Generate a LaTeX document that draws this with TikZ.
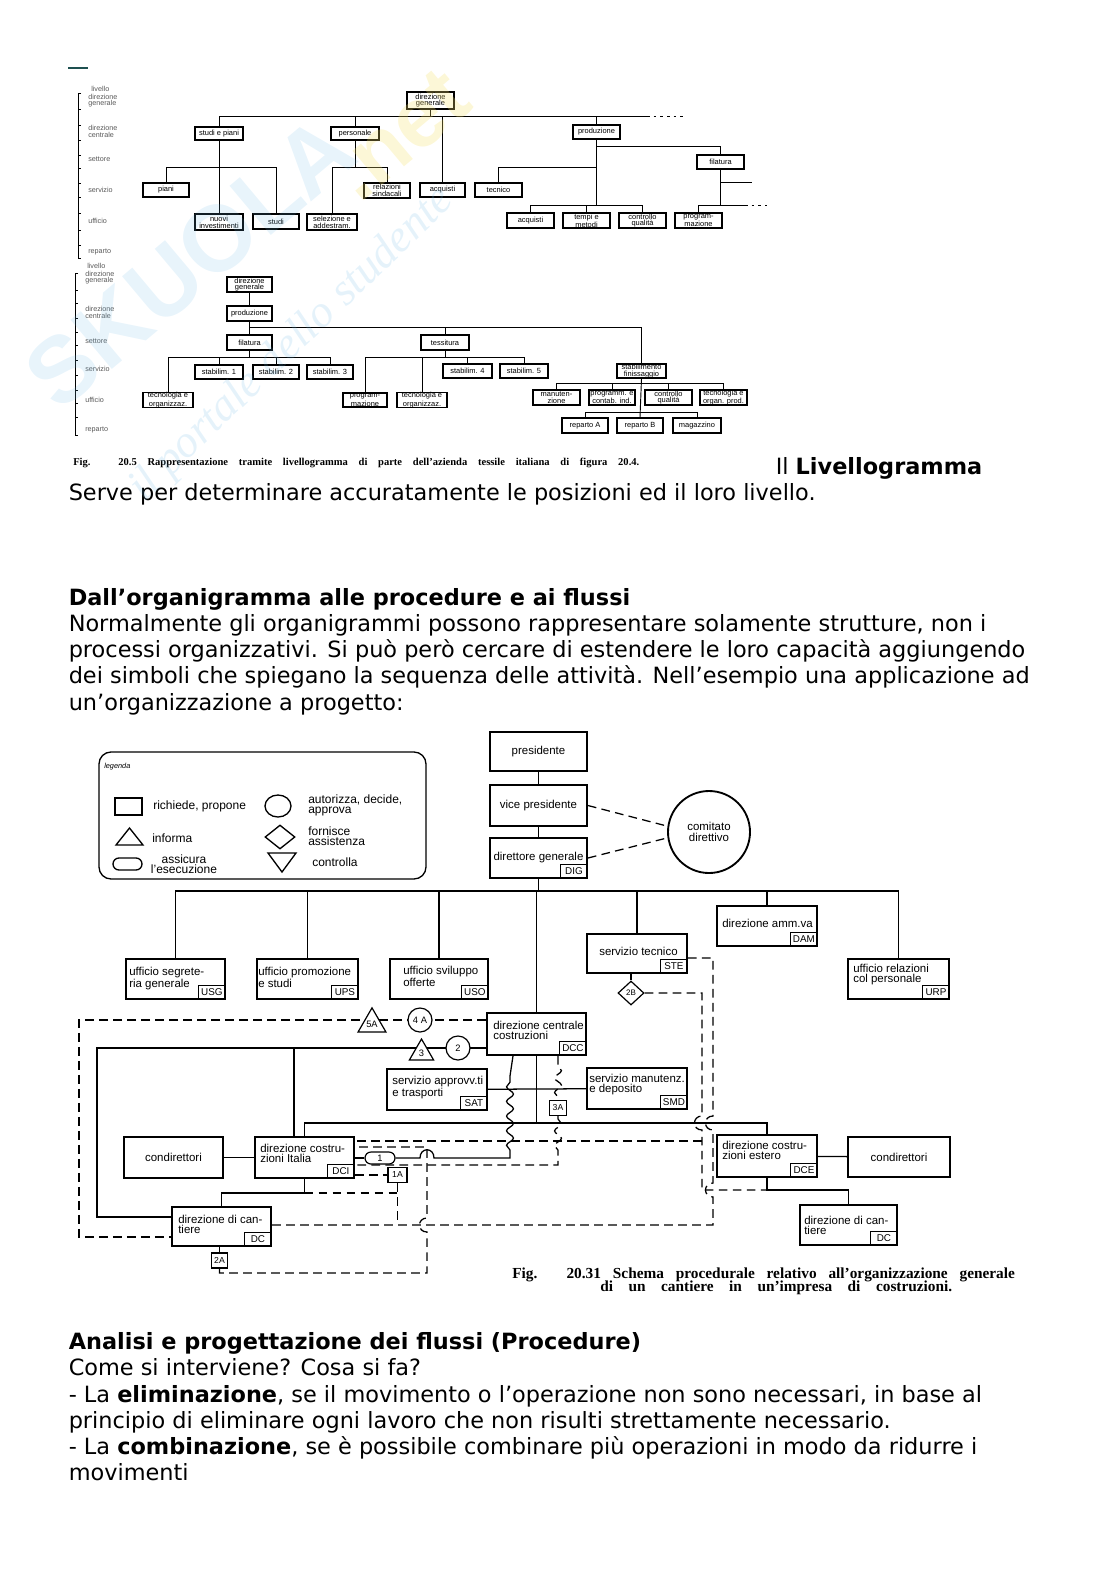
\documentclass[tikz,border=0pt]{standalone}
\usepackage{fontspec}
\setmainfont{DejaVu Sans}
\newfontfamily\hel{Liberation Sans}
\newfontfamily\tim{Liberation Serif}
\usetikzlibrary{shapes.geometric,decorations.pathmorphing,backgrounds,calc,fit}
\definecolor{wmblue}{RGB}{110,185,230}
\definecolor{wmyellow}{RGB}{245,225,110}
\definecolor{tealdash}{RGB}{30,80,80}
\newcommand\LB[6]{\node[lvbox, minimum width={(#4-#2)*0.75pt}, minimum height={(#5-#3)*0.75pt}] (#1) at ({(#2+#4)/2},{(#3+#5)/2}) {#6};}
\newcommand\PBX[6]{\node[pbox, minimum width={(#4-#2)*0.75pt}, minimum height={(#5-#3)*0.75pt}] (#1) at ({(#2+#4)/2},{(#3+#5)/2}) {};\node[cbox,anchor=south east] (#1c) at (#1.south east) {#6};}
\newcommand\PB[6]{\node[pbox, font=\hel\fontsize{8.6}{8}\selectfont, minimum width={(#4-#2)*0.75pt}, minimum height={(#5-#3)*0.75pt}] (#1) at ({(#2+#4)/2},{(#3+#5)/2}) {#6};}
\tikzset{
 lvbox/.style={draw, line width=1.1pt, inner sep=0pt, font=\hel\fontsize{5.6}{5}\selectfont, align=center},
 lvlab/.style={font=\hel\fontsize{5.4}{5}\selectfont, text=black!65, inner sep=0pt, anchor=west},
 lvcon/.style={line width=0.7pt},
 pbox/.style={draw, line width=1.4pt, inner sep=0pt},
 cbox/.style={draw, line width=1pt, inner sep=0pt, minimum width=20pt, minimum height=10.5pt, font=\hel\fontsize{7.4}{7}\selectfont},
 ptxt/.style={font=\hel\fontsize{8.6}{7.6}\selectfont, inner sep=0pt, anchor=north west, align=left},
 pcon/.style={line width=0.95pt},
 pdash/.style={line width=0.95pt, dash pattern=on 6.5pt off 4pt},
 sym/.style={draw, line width=0.9pt, fill=white, inner sep=0pt, font=\hel\fontsize{7}{7}\selectfont},
 body/.style={anchor=base west, inner sep=0pt, font=\fontsize{16.8}{19.65}\selectfont},
 leg/.style={font=\hel\fontsize{9}{7.6}\selectfont, inner sep=0pt, align=left, anchor=west},
 wave/.style={decoration={snake, amplitude=2.6pt, segment length=11pt}}
}
\begin{document}
\begin{tikzpicture}[x=0.75pt,y=-0.75pt]
\useasboundingbox (0,0) rectangle (1116,1579);

\draw[tealdash, line width=1.5pt] (68,68) -- (88,68);

% ================= Livellogramma 1 =================
\draw[lvcon] (81,93) -- (78,93) -- (78,258) -- (81,258);
\foreach \yy in {109,125,140,155,168,183,197,213,230,245} {\draw[lvcon] (78,\yy) -- (81,\yy);}
\node[lvlab] (la1) at (91,89) {livello};
\node[lvlab] (la2) at (88,96.5) {direzione};
\node[lvlab] (la3) at (88,103.5) {generale};
\node[lvlab] (la4) at (88,128) {direzione};
\node[lvlab] (la5) at (88,135) {centrale};
\node[lvlab] (la6) at (88,159) {settore};
\node[lvlab] (la7) at (88,190) {servizio};
\node[lvlab] (la8) at (88,221) {ufficio};
\node[lvlab] (la9) at (88,252) {reparto};

\LB{dgA}{407}{92}{454}{109}{direzione\\generale}
\LB{sp}{195}{127}{243}{140}{studi e piani}
\LB{pers}{331}{127}{379}{140}{personale}
\LB{prod}{573}{125}{620}{139}{produzione}
\LB{fil}{697}{155}{744}{169}{filatura}
\LB{piani}{143}{183}{189}{197}{piani}
\LB{rel}{364}{183}{410}{198}{relazioni\\sindacali}
\LB{acqA}{420}{183}{465}{197}{acquisti}
\LB{tec}{475}{183}{522}{197}{tecnico}
\LB{nuovi}{195}{214}{243}{230}{nuovi\\investimenti}
\LB{studi}{253}{214}{299}{229}{studi}
\LB{sel}{307}{214}{357}{230}{selezione e\\addestram.}
\LB{acqB}{507}{213}{554}{228}{acquisti}
\LB{tempi}{563}{213}{610}{228}{tempi e\\metodi}
\LB{cq}{619}{213}{666}{228}{controllo\\qualità}
\LB{progr}{675}{213}{722}{228}{program-\\mazione}

\coordinate (b1) at (219,116);
\coordinate (b1r) at (647,116);
\coordinate (b1d) at (683,116);
\coordinate (b2) at (0,167);
\coordinate (b3) at (0,205);
\coordinate (b4) at (0,146);
\coordinate (b5) at (752,182);
\coordinate (b6) at (745,205);
\coordinate (b6d) at (767,205);
\draw[lvcon] (dgA.south) -- (dgA.south |- b1);
\draw[lvcon] (b1) -- (b1r);
\draw[lvcon, dash pattern=on 2pt off 3pt] (b1r) -- (b1d);
\draw[lvcon] (sp.north) -- (sp.north |- b1);
\draw[lvcon] (pers.north) -- (pers.north |- b1);
\draw[lvcon] (acqA.north) -- (acqA.north |- b1);
\draw[lvcon] (prod.north) -- (prod.north |- b1);
\draw[lvcon] (sp.south) -- (nuovi.north);
\draw[lvcon] (piani.north) -- (piani.north |- b2) -- (studi.north |- b2) -- (studi.north);
\draw[lvcon] (pers.south) -- (pers.south |- b2);
\draw[lvcon] (sel.north) -- (sel.north |- b2) -- (rel.north |- b2) -- (rel.north);
\draw[lvcon] (prod.south) -- (prod.south |- b3);
\draw[lvcon] (prod.south |- b4) -- (fil.north |- b4) -- (fil.north);
\draw[lvcon] (tec.north) -- (tec.north |- b2) -- (prod.south |- b2);
\draw[lvcon] (acqB.north) -- (acqB.north |- b3) -- (cq.north |- b3) -- (cq.north);
\draw[lvcon] (tempi.north) -- (tempi.north |- b3);
\draw[lvcon] (fil.south) -- (fil.south |- b3);
\draw[lvcon] (fil.south |- b5) -- (b5);
\draw[lvcon] (progr.north) -- (progr.north |- b3) -- (b6);
\draw[lvcon, dash pattern=on 2pt off 3pt] (b6) -- (b6d);

% ================= Livellogramma 2 =================
\draw[lvcon] (78,273) -- (75,273) -- (75,435) -- (78,435);
\foreach \yy in {290,303,318,332,345,360,375,390,403,417} {\draw[lvcon] (75,\yy) -- (78,\yy);}
\node[lvlab] (lb1) at (87,266) {livello};
\node[lvlab] (lb2) at (85,273.5) {direzione};
\node[lvlab] (lb3) at (85,281) {generale};
\node[lvlab] (lb4) at (85,309) {direzione};
\node[lvlab] (lb5) at (85,316) {centrale};
\node[lvlab] (lb6) at (85,341) {settore};
\node[lvlab] (lb7) at (85,369) {servizio};
\node[lvlab] (lb8) at (85,400) {ufficio};
\node[lvlab] (lb9) at (85,430) {reparto};

\LB{dgB}{227}{277}{272}{292}{direzione\\generale}
\LB{prodB}{227}{306}{272}{321}{produzione}
\LB{filB}{227}{335}{272}{350}{filatura}
\LB{tess}{421}{335}{469}{350}{tessitura}
\LB{st1}{195}{365}{243}{379}{stabilim. 1}
\LB{st2}{253}{365}{299}{379}{stabilim. 2}
\LB{st3}{307}{365}{353}{379}{stabilim. 3}
\LB{st4}{443}{364}{492}{378}{stabilim. 4}
\LB{st5}{500}{364}{548}{378}{stabilim. 5}
\LB{finB}{617}{364}{666}{378}{stabilimento\\finissaggio}
\LB{toA}{143}{393}{193}{407}{tecnologia e\\organizzaz.}
\LB{prB}{343}{393}{387}{407}{program-\\mazione}
\LB{toB}{397}{393}{447}{407}{tecnologia e\\organizzaz.}
\LB{man}{533}{390}{580}{405}{manuten-\\zione}
\LB{pci}{589}{390}{635}{405}{programm. e\\contab. ind.}
\LB{cqB}{645}{390}{692}{405}{controllo\\qualità}
\LB{topr}{700}{390}{747}{405}{tecnologia e\\organ. prod.}
\LB{repA}{562}{418}{608}{433}{reparto A}
\LB{repB}{617}{418}{663}{433}{reparto B}
\LB{mag}{673}{418}{721}{433}{magazzino}

\coordinate (c1) at (0,327);
\coordinate (c2) at (0,357);
\coordinate (c3) at (0,383);
\coordinate (c4) at (0,412);
\draw[lvcon] (dgB.south) -- (prodB.north);
\draw[lvcon] (prodB.south) -- (filB.north);
\draw[lvcon] (prodB.south |- c1) -- (finB.north |- c1) -- (finB.north);
\draw[lvcon] (tess.north) -- (tess.north |- c1);
\draw[lvcon] (filB.south) -- (filB.south |- c2);
\draw[lvcon] (toA.north) -- (toA.north |- c2) -- (st3.north |- c2) -- (st3.north);
\draw[lvcon] (st1.north) -- (st1.north |- c2);
\draw[lvcon] (st2.north) -- (st2.north |- c2);
\draw[lvcon] (tess.south) -- (tess.south |- c2);
\draw[lvcon] (prB.north) -- (prB.north |- c2) -- (st5.north |- c2) -- (st5.north);
\draw[lvcon] (toB.north) -- (toB.north |- c2);
\draw[lvcon] (st4.north) -- (st4.north |- c2);
\draw[lvcon] (finB.south) -- (repB.north);
\draw[lvcon] (man.north) -- (man.north |- c3) -- (topr.north |- c3) -- (topr.north);
\draw[lvcon] (pci.north) -- (pci.north |- c3);
\draw[lvcon] (cqB.north) -- (cqB.north |- c3);
\draw[lvcon] (repA.north) -- (repA.north |- c4) -- (mag.north |- c4) -- (mag.north);

\node[anchor=base west, inner sep=0pt, font=\tim\bfseries\fontsize{7.9}{8}\selectfont] (cap1) at (73,465)
  {\makebox[424.5pt][s]{Fig. 20.5 Rappresentazione tramite livellogramma di parte dell’azienda tessile italiana di figura 20.4.}};

% ================= body text =================
\node[body] (t1) at (775.5,474) {Il \textbf{Livellogramma}};
\node[body] (t2) at (68.5,500) {Serve per determinare accuratamente le posizioni ed il loro livello.};
\node[body] (t3) at (68.5,605) {\textbf{Dall’organigramma alle procedure e ai flussi}};
\node[body] (t4) at (68.5,631.5) {Normalmente gli organigrammi possono rappresentare solamente strutture, non i};
\node[body] (t5) at (68.5,657.7) {processi organizzativi. Si può però cercare di estendere le loro capacità aggiungendo};
\node[body] (t6) at (68.5,683.9) {dei simboli che spiegano la sequenza delle attività. Nell’esempio una applicazione ad};
\node[body] (t7) at (68.5,710) {un’organizzazione a progetto:};
\node[body] (t8) at (68.5,1349.6) {\textbf{Analisi e progettazione dei flussi (Procedure)}};
\node[body] (t9) at (68.5,1375.8) {Come si interviene? Cosa si fa?};
\node[body] (t10) at (68.5,1402) {- La \textbf{eliminazione}, se il movimento o l’operazione non sono necessari, in base al};
\node[body] (t11) at (68.5,1428.2) {principio di eliminare ogni lavoro che non risulti strettamente necessario.};
\node[body] (t12) at (68.5,1454.4) {- La \textbf{combinazione}, se è possibile combinare più operazioni in modo da ridurre i};
\node[body] (t13) at (68.5,1480.6) {movimenti};

% ================= Fig 20.31 =================
% legend
\node[draw, rounded corners=9pt, line width=1pt, inner sep=0pt, minimum width=245.25pt, minimum height=95.25pt] (legbox) at (262.5,815.5) {};
\node[font=\hel\itshape\fontsize{5.5}{6}\selectfont, anchor=west, inner sep=0pt] (legt) at (104,767) {legenda};
\node[draw, line width=1pt, inner sep=0pt, minimum width=20.25pt, minimum height=12.75pt] (legsq) at (128.5,806.5) {};
\node[leg] (legsqt) at (153,806) {richiede, propone};
\draw[line width=1pt] (116,845) -- (129.5,828) -- (143,845) -- cycle;
\node[leg] (legtrt) at (152,838) {informa};
\node[draw, line width=1pt, inner sep=0pt, minimum width=21.75pt, minimum height=9pt, rounded corners=4.5pt] (legst) at (127.5,864) {};
\node[leg, align=center, anchor=center] (legstt) at (184,864) {assicura\\l’esecuzione};
\node[draw, ellipse, line width=1pt, inner sep=0pt, minimum width=19.5pt, minimum height=16.5pt] (legci) at (278,806) {};
\node[leg] (legcit) at (308,805) {autorizza, decide,\\approva};
\node[draw, diamond, line width=1pt, inner sep=0pt, minimum width=22.5pt, minimum height=18pt] (legdi) at (280,837) {};
\node[leg] (legdit) at (308,836) {fornisce\\assistenza};
\draw[line width=1pt] (268,853) -- (296,853) -- (282,872) -- cycle;
\node[leg] (legdtt) at (312,862) {controlla};

% hierarchy
\PB{pres}{490}{732}{587}{771}{presidente}
\PB{vice}{490}{785}{587}{826}{vice presidente}
\PB{dir}{490}{838}{587}{878}{direttore generale}
\node[cbox, anchor=south east] (dirc) at (dir.south east) {DIG};
\node[pbox, circle, minimum size=61.5pt, align=center, font=\hel\fontsize{8.6}{8.2}\selectfont] (com) at (709,832) {comitato\\direttivo};

\PBX{usg}{126}{959}{225}{999}{USG}
\PBX{ups}{257}{959}{358}{999}{UPS}
\PBX{uso}{390}{959}{488}{999}{USO}
\PBX{ste}{587}{934}{687}{973}{STE}
\PBX{dam}{717}{906}{817}{946}{DAM}
\PBX{urp}{848}{959}{949}{999}{URP}
\PBX{dcc}{487}{1013}{586}{1055}{DCC}
\PBX{sat}{387}{1069}{487}{1110}{SAT}
\PBX{smd}{587}{1068}{687}{1109}{SMD}
\PBX{dci}{255}{1137}{354}{1178}{DCI}
\PBX{dcl}{172}{1207}{271}{1246}{DC}
\PBX{dce}{717}{1135}{817}{1177}{DCE}
\PBX{dcr}{800}{1205}{897}{1245}{DC}
\PB{condl}{124}{1137}{223}{1178}{condirettori}
\PB{condr}{848}{1137}{950}{1177}{condirettori}

\node[ptxt] (usgt) at (129,967) {ufficio segrete-\\ria generale};
\node[ptxt] (upst) at (258,967) {ufficio promozione\\e studi};
\node[ptxt] (usot) at (403,966) {ufficio sviluppo\\offerte};
\node[ptxt, anchor=west] (stet) at (599,951) {servizio tecnico};
\node[ptxt, anchor=west] (damt) at (722,923) {direzione amm.va};
\node[ptxt] (urpt) at (853,964) {ufficio relazioni\\col personale};
\node[ptxt] (dcct) at (493,1021) {direzione centrale\\costruzioni};
\node[ptxt] (satt) at (392,1076) {servizio approvv.ti\\e trasporti};
\node[ptxt] (smdt) at (589,1074) {servizio manutenz.\\e deposito};
\node[ptxt] (dcit) at (260,1144) {direzione costru-\\zioni Italia};
\node[ptxt] (dclt) at (178,1215) {direzione di can-\\tiere};
\node[ptxt] (dcet) at (722,1141) {direzione costru-\\zioni estero};
\node[ptxt] (dcrt) at (804,1216) {direzione di can-\\tiere};

% symbols
\node[sym, regular polygon, regular polygon sides=3, minimum size=22.5pt] (s5A) at (372,1024) {5A};
\node[sym, circle, minimum size=18pt] (s4A) at (420,1020) {4 A};
\node[sym, regular polygon, regular polygon sides=3, minimum size=21pt] (s3) at (421.5,1053) {3};
\node[sym, circle, minimum size=18pt] (s2) at (458,1048) {2};
\node[sym, diamond, minimum width=19.5pt, minimum height=18pt, font=\hel\fontsize{6}{6}\selectfont] (s2B) at (631,993) {2B};
\node[sym, rectangle, minimum width=14.25pt, minimum height=11.25pt, font=\hel\fontsize{6.5}{6}\selectfont] (s1A) at (397.5,1175) {1A};
\node[sym, rectangle, minimum width=11.5pt, minimum height=11.25pt, font=\hel\fontsize{6.5}{6}\selectfont] (s2A) at (219.5,1260.5) {2A};
\node[sym, rectangle, minimum width=12.75pt, minimum height=11.25pt, font=\hel\fontsize{6.5}{6}\selectfont] (s3A) at (558,1108) {3A};
\node[sym, rectangle, rounded corners=4.5pt, minimum width=22.5pt, minimum height=9pt] (s1) at (380,1158) {1};

\coordinate (bus) at (0,891);
\coordinate (y958) at (0,958);
\coordinate (y1020) at (0,1020);
\coordinate (y1048) at (0,1048);
\coordinate (y1123) at (0,1123);
\coordinate (y1141) at (0,1141);
\coordinate (y1147) at (0,1147);
\coordinate (y1165) at (0,1165);
\coordinate (y1190) at (0,1190);
\coordinate (y1193) at (0,1193);
\coordinate (y1217) at (0,1217);
\coordinate (y1225) at (0,1225);
\coordinate (y1237) at (0,1237);
\coordinate (y1273) at (0,1273);
\coordinate (x97) at (97,0);
\coordinate (x294) at (294,0);
\coordinate (x79) at (79,0);
\coordinate (xw) at (513,0);

\begin{scope}[on background layer]
% solid
\draw[pcon] (pres) -- (vice);
\draw[pcon] (vice) -- (dir);
\draw[pcon] (dir.south) -- (dir.south |- bus);
\draw[pcon] (usg.north) |- (urp.north |- bus) -- (urp.north);
\draw[pcon] (ups.north) -- (ups.north |- bus);
\draw[pcon] (uso.north) -- (uso.north |- bus);
\draw[pcon] (ste.north) -- (ste.north |- bus);
\draw[pcon] (dam.north) -- (dam.north |- bus);
\draw[pcon] (dcc.north |- bus) -- (dcc.north);
\draw[pcon] (dcc.south) -- (dcc.south |- y1123);
\draw[pcon] (dci.north) -- (dci.north |- y1123) -- (dce.north |- y1123) -- (dce.north);
\draw[pcon] (sat) -- (smd);
\draw[pcon] (dcc.west |- y1048) -- (x97 |- y1048) -- (x97 |- y1217) -- (dcl.west |- y1217);
\draw[pcon] (x294 |- y1048) -- (x294 |- dci.north);
\draw[pcon] (condl) -- (dci);
\draw[pcon] (dci.south) -- (dci.south |- y1193) -| (dcl.north);
\draw[pcon] (dcl.south -| s2A) -- (s2A.north);
\draw[pcon] (dce) -- (condr);
\draw[pcon] (dce.south) -- (dce.south |- y1190) -| (dcr.north);
\draw[pcon] (dci.east |- s1) -- (s1.west);
\draw[pcon] (s1.east) -- (420,1158) .. controls (420,1147) and (434,1147) .. (434,1158) -- (510,1158) -- (510,1150)
   decorate[wave]{-- (510,1076)} -- (xw |- dcc.south);
% dashed
\draw[pdash] (vice.east) -- (com.172);
\draw[pdash] (dir.east) -- (com.188);
\draw[pdash] (dcc.west |- y1020) -- (x79 |- y1020) -- (x79 |- y1237) -- (dcl.west |- y1237);
\draw[pdash] (ste.east |- y958) -- (713,958) -- (713,1116) .. controls (703,1116) and (703,1130) .. (713,1130)
   -- (713,1183) .. controls (703,1183) and (703,1197) .. (713,1197) -- (713,1225) -- (dcl.east |- y1225);
\draw[pdash] (ste.south -| s2B) -- (s2B.north);
\draw[pdash] (s2B.east) -- (702,993) -- (702,1116) .. controls (692,1116) and (692,1130) .. (702,1130)
   -- (702,1190) -- (dce.south |- y1190);
\draw[pdash] (702,1141) -- (dci.east |- y1141);
\draw[pdash] (dcc.south -| s3A) -- (558,1066) decorate[wave]{-- (558,1099)} -- (s3A.north);
\draw[pdash] (s3A.south) -- (558,1119) decorate[wave]{-- (558,1157)} -- (558,1165) -- (dci.east |- y1165);
\draw[pdash] (dci.east |- s1A) -- (s1A.west);
\draw[pdash] (s1A.south) -- (s1A.south |- y1225);
\draw[pdash] (dci.south |- y1193) -- (s1A.south |- y1193);
\draw[pdash] (s2A.south) -- (s2A.south |- y1273) -- (427,1273) -- (427,1232) .. controls (417,1232) and (417,1218) .. (427,1218)
   -- (427,1147) -- (dci.east |- y1147);
\end{scope}

\node[anchor=base west, inner sep=0pt, font=\tim\bfseries\fontsize{11.5}{11}\selectfont] (cap2a) at (512,1278)
  {\makebox[377pt][s]{Fig. 20.31 Schema procedurale relativo all’organizzazione generale}};
\node[anchor=base west, inner sep=0pt, font=\tim\bfseries\fontsize{11.5}{11}\selectfont] (cap2b) at (600,1291)
  {\makebox[264pt][s]{di un cantiere in un’impresa di costruzioni.}};

% ================= watermark =================
\node[rotate=40, text=wmblue, opacity=0.16, font=\hel\bfseries\fontsize{70}{70}\selectfont, inner sep=0pt] (wm1) at (190,262) {SKUOLA};
\node[rotate=40, text=wmyellow, opacity=0.28, font=\hel\bfseries\fontsize{64}{64}\selectfont, inner sep=0pt] (wm2) at (400,135) {.net};
\node[rotate=44, text=wmblue, opacity=0.18, font=\tim\itshape\fontsize{34}{34}\selectfont, inner sep=0pt] (wm3) at (292,345) {il portale dello studente};
\end{tikzpicture}
\end{document}
